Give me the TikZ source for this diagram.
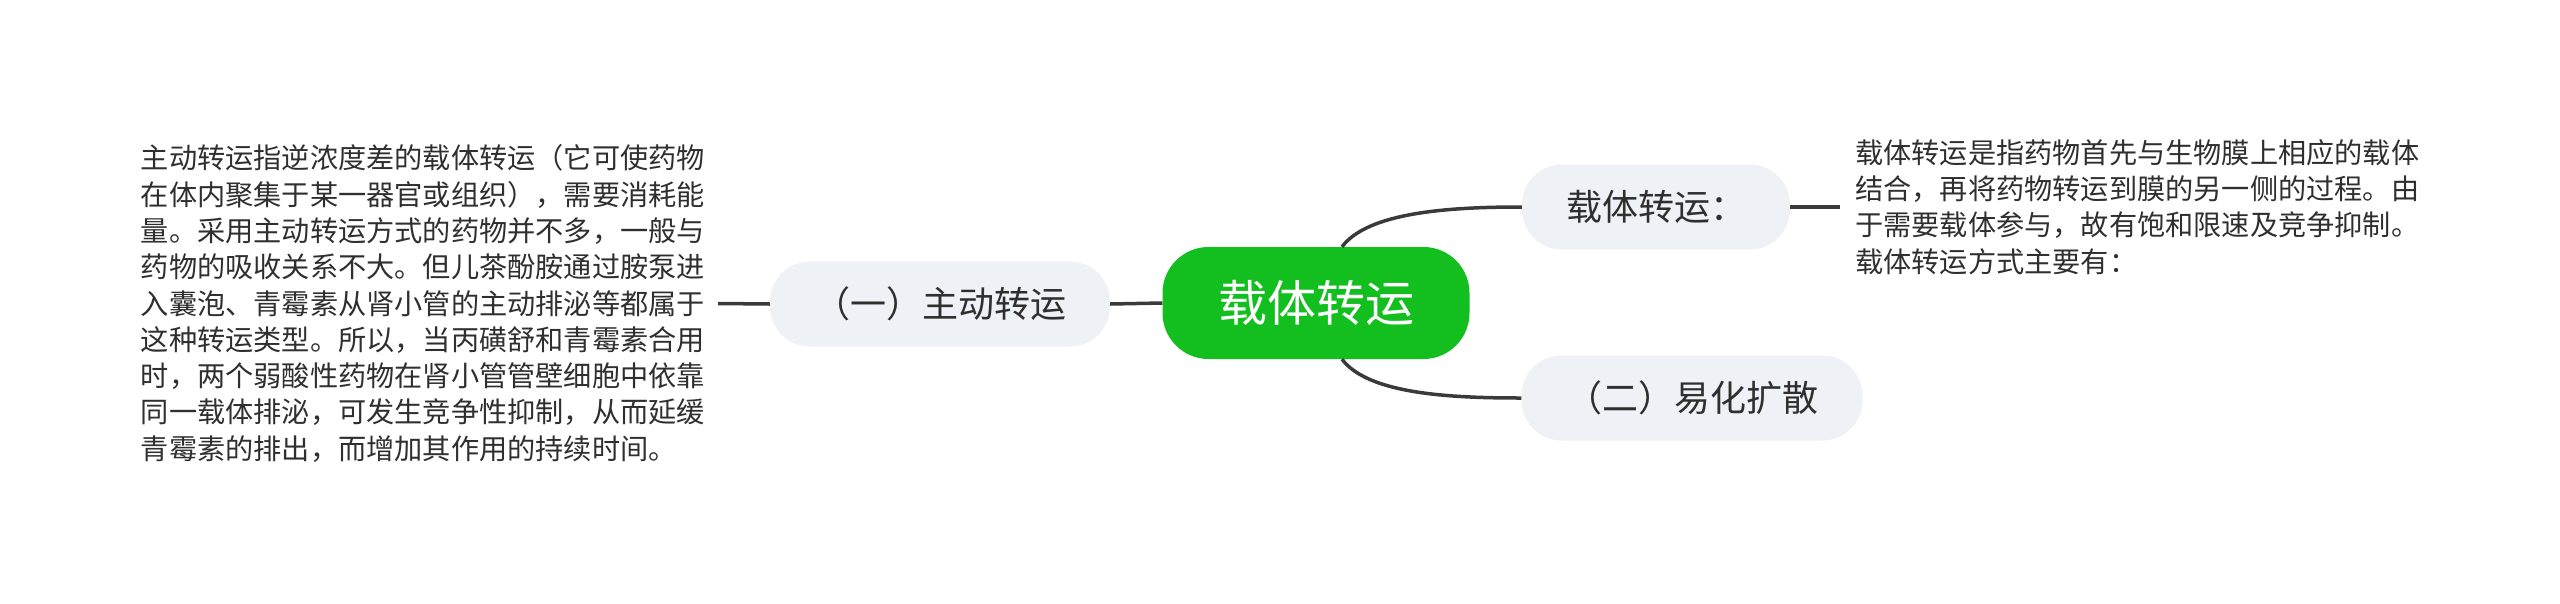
\documentclass[tikz,border=0pt]{standalone}
\usepackage{fontspec}
\newfontfamily\cjk{Noto Sans CJK SC}
\definecolor{maingreen}{HTML}{13BF1F}
\definecolor{subfill}{HTML}{EEF1F5}
\definecolor{linecol}{HTML}{3A3A3A}
\definecolor{txtcol}{HTML}{2F2F2F}
\tikzset{
  centralnode/.style={fill=maingreen, text=white, rounded corners=46pt, minimum width=307pt, minimum height=112pt, inner sep=0pt, font={\cjk\fontsize{49}{55}\selectfont}},
  subnode/.style={fill=subfill, text=txtcol, rounded corners=40pt, minimum height=85pt, inner sep=0pt, font={\cjk\fontsize{36}{42}\selectfont}},
  bodytext/.style={text=txtcol, align=left, inner ysep=0pt, font={\cjk\fontsize{28.2}{36.3}\selectfont}},
  conn/.style={draw=linecol, line width=3.5pt}
}
\begin{document}
\begin{tikzpicture}[x=1pt,y=-1pt]
\path[use as bounding box] (0,0) rectangle (2560,603);
\node[centralnode] (c) at (1316,303) {载体转运};
\node[subnode, minimum width=340pt] (n1) at (940,304) {（一）主动转运};
\node[subnode, minimum width=268pt] (n2) at (1656,207) {载体转运：};
\node[subnode, minimum width=341pt] (n3) at (1692,398) {（二）易化扩散};
\node[bodytext, anchor=east, inner xsep=13pt] (lt) at (718,303.5) {主动转运指逆浓度差的载体转运（它可使药物\\在体内聚集于某一器官或组织），需要消耗能\\量。采用主动转运方式的药物并不多，一般与\\药物的吸收关系不大。但儿茶酚胺通过胺泵进\\入囊泡、青霉素从肾小管的主动排泌等都属于\\这种转运类型。所以，当丙磺舒和青霉素合用\\时，两个弱酸性药物在肾小管管壁细胞中依靠\\同一载体排泌，可发生竞争性抑制，从而延缓\\青霉素的排出，而增加其作用的持续时间。};
\node[bodytext, anchor=west, inner xsep=15pt] (rt) at (1840,207) {载体转运是指药物首先与生物膜上相应的载体\\结合，再将药物转运到膜的另一侧的过程。由\\于需要载体参与，故有饱和限速及竞争抑制。\\载体转运方式主要有：};
\draw[conn] (lt.east) -- (n1.west);
\draw[conn] (n1.east) -- (c.west);
\draw[conn] ([xshift=26pt]c.north) .. controls (1368,212) and (1450,207) .. (n2.west);
\draw[conn] ([xshift=26pt]c.south) .. controls (1368,394) and (1450,398) .. (n3.west);
\draw[conn] (n2.east) -- (rt.west);
\end{tikzpicture}
\end{document}
